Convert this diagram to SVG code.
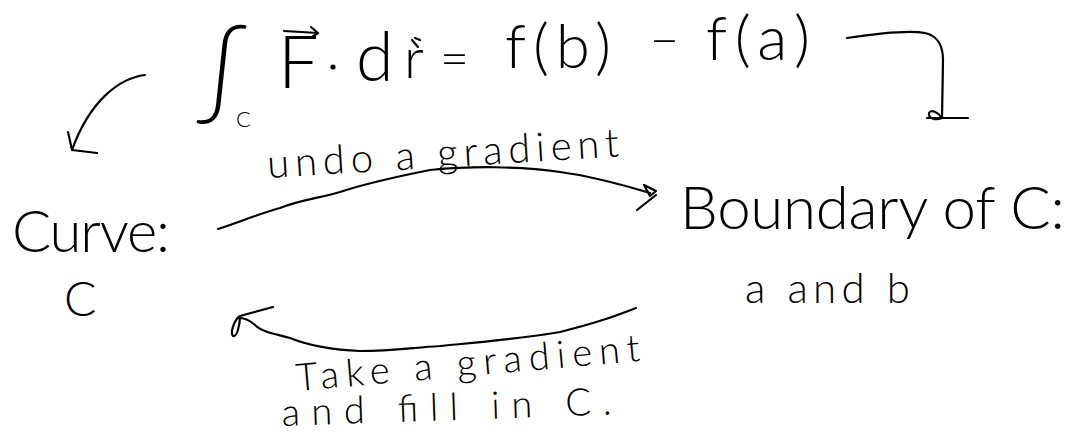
<svg xmlns="http://www.w3.org/2000/svg" width="1067" height="438" viewBox="0 0 1067 438">
<defs>
<style>
.t{font-family:"Lato","Liberation Sans",sans-serif;font-weight:300;fill:#000}
.s{fill:none;stroke:#000;stroke-width:2.2;stroke-linecap:round;stroke-linejoin:round}
</style>
</defs>
<rect width="1067" height="438" fill="#fff"/>
<g id="equation">
<text class="t" x="196" y="106" font-size="100">∫</text>
<text class="t" x="236" y="127" font-size="22">C</text>
<text class="t" x="278" y="88" font-size="72">F</text>
<path class="s" d="M284 31 L318 33 M311 27 L318 33 L312 37"/>
<circle cx="333" cy="67" r="2.6"/>
<text class="t" x="356" y="81" font-size="68">d</text>
<text class="t" x="404" y="78" font-size="56">r</text>
<path class="s" d="M412 40 L418 47 M415 38 L420 40"/>
<text class="t" x="440" y="76" font-size="50">=</text>
<text class="t" x="505" y="68" font-size="62" textLength="106" lengthAdjust="spacing">f(b)</text>
<text class="t" x="650" y="58" font-size="50">−</text>
<text class="t" x="706" y="60" font-size="62" textLength="104" lengthAdjust="spacing">f(a)</text>
</g>
<g id="curve-node">
<text class="t" x="12" y="252" font-size="58" textLength="158" lengthAdjust="spacing">Curve:</text>
<text class="t" x="64" y="316" font-size="48">C</text>
</g>
<g id="boundary-node">
<text class="t" x="680" y="229" font-size="60" textLength="385" lengthAdjust="spacing">Boundary of C:</text>
<text class="t" x="745" y="303" font-size="42" textLength="165" lengthAdjust="spacing">a and b</text>
</g>
<g id="labels">
<text class="t" x="268" y="178" font-size="40" textLength="352" lengthAdjust="spacing" transform="rotate(-3.5 268 178)">undo a gradient</text>
<text class="t" x="297" y="391" font-size="38" textLength="345" lengthAdjust="spacing" transform="rotate(-5 297 391)">Take a gradient</text>
<text class="t" x="282" y="426" font-size="38" textLength="330" lengthAdjust="spacing" transform="rotate(-2 282 426)">and fill in C.</text>
</g>
<g id="connectors">
<path class="s" d="M145 75 C120 78 90 100 72 150"/>
<path class="s" d="M68 132 C70 140 71 146 72 150 L97 153"/>
<path class="s" d="M847 38 C880 33 910 30 925 33 C940 36 943 50 943 60 L942 118 M927 118 L968 118 M942 118 C935 121 928 118 929 113 C931 109 938 112 942 118"/>
<path class="s" d="M218 229 C240 222 258 214 280 208 C300 200 320 198 340 192 C370 182 400 176 430 170 C470 166 520 166 560 172 C590 176 620 184 650 193"/>
<path class="s" d="M644 185 L656 191 L650 196 Z M656 195 L637 210"/>
<path class="s" d="M636 308 C615 316 600 322 560 332 C520 339 470 343 440 346 C410 348 390 351 360 351 C335 350 310 346 290 338 C275 334 262 332 255 325 C248 319 244 318 240 318"/>
<path class="s" d="M273 307 L240 316 C234 320 230 333 233 336 C237 337 240 325 240 316"/>
</g>
</svg>
